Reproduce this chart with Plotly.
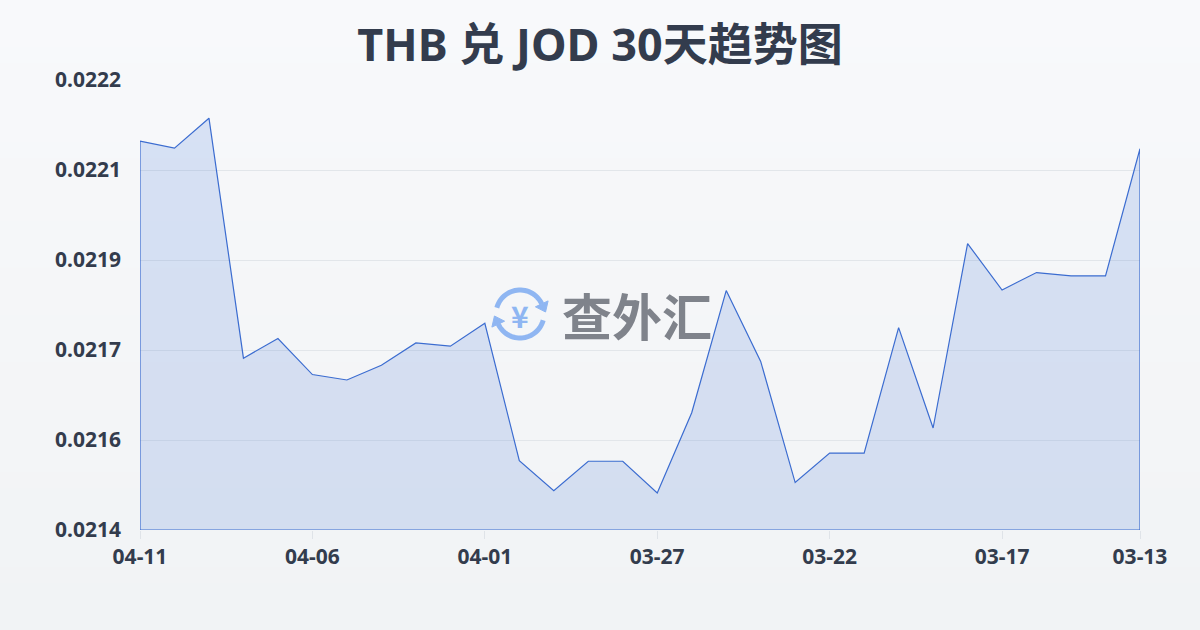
import numpy as np
import plotly.graph_objects as go

# ---- data ----
DATES = ["04-11", "04-10", "04-09", "04-08", "04-07", "04-06", "04-05", "04-04", "04-03", "04-02",
         "04-01", "03-31", "03-30", "03-29", "03-28", "03-27", "03-26", "03-25", "03-24", "03-23",
         "03-22", "03-21", "03-20", "03-19", "03-18", "03-17", "03-16", "03-15", "03-14", "03-13"]
RATES = [0.022113, 0.022100, 0.022155, 0.021715, 0.021751, 0.021685, 0.021675, 0.021702, 0.021743, 0.021737,
         0.021779, 0.021527, 0.021472, 0.021526, 0.021526, 0.021468, 0.021615, 0.021839, 0.021709, 0.021487,
         0.021541, 0.021541, 0.021771, 0.021587, 0.021925, 0.021840, 0.021872, 0.021866, 0.021866, 0.022099]
X_TICKS = ["04-11", "04-06", "04-01", "03-27", "03-22", "03-17", "03-13"]
Y_TICK_LABELS = ["0.0214", "0.0216", "0.0217", "0.0219", "0.0221", "0.0222"]
Y_MIN, Y_MAX = 0.02140, 0.022225
TITLE = "THB 兑 JOD 30天趋势图"

W, H = 1200, 630
L, R, T, B = 140, 60, 80, 100
PW, PH = W - L - R, H - T - B

def px(x):
    return (x - L) / PW

def py(y):
    return (H - B - y) / PH

tickvals = list(np.linspace(Y_MIN, Y_MAX, len(Y_TICK_LABELS)))

fig = go.Figure()

# closed area polygon (data + baseline)
xs = DATES + [DATES[-1], DATES[0], DATES[0]]
ys = RATES + [Y_MIN, Y_MIN, RATES[0]]
fig.add_trace(go.Scatter(
    x=xs, y=ys, mode="lines", fill="toself",
    fillcolor="rgba(62,110,214,0.17)",
    line=dict(color="#3b6cd0", width=1.2),
    hoverinfo="skip", showlegend=False,
))

shapes = []
# background gradient
top_c = np.array([248, 249, 251])
bot_c = np.array([241, 243, 245])
n = 40
for i in range(n):
    t = i / (n - 1)
    c = (top_c + (bot_c - top_c) * t).round().astype(int)
    y0 = H * i / n
    y1 = H * (i + 1) / n + 1
    shapes.append(dict(type="rect", xref="paper", yref="paper", layer="below",
                       x0=px(0), x1=px(W), y0=py(y1), y1=py(y0),
                       fillcolor=f"rgb({c[0]},{c[1]},{c[2]})", line=dict(width=0)))

# watermark icon: two circular arrows
cx, cy, r = 520, 314, 24
icon_col = "#8fb6f2"

def arc(a0, a1, steps=30):
    angs = np.radians(np.linspace(a0, a1, steps))
    pts = [(cx + r * np.cos(a), cy - r * np.sin(a)) for a in angs]
    d = "M " + " L ".join(f"{px(x):.5f},{py(y):.5f}" for x, y in pts)
    return d

def head(a, direction):
    a = np.radians(a)
    ex, ey = cx + r * np.cos(a), cy - r * np.sin(a)
    tx, ty = -np.sin(a) * direction, -np.cos(a) * direction
    rx, ry = np.cos(a), -np.sin(a)
    tip = (ex + tx * 9, ey + ty * 9)
    b1 = (ex + rx * 7, ey + ry * 7)
    b2 = (ex - rx * 7, ey - ry * 7)
    pts = [tip, b1, b2]
    return "M " + " L ".join(f"{px(x):.5f},{py(y):.5f}" for x, y in pts) + " Z"

shapes.append(dict(type="path", xref="paper", yref="paper", path=arc(165, 25),
                   line=dict(color=icon_col, width=5), layer="above"))
shapes.append(dict(type="path", xref="paper", yref="paper", path=head(25, -1),
                   fillcolor=icon_col, line=dict(color=icon_col, width=1), layer="above"))
shapes.append(dict(type="path", xref="paper", yref="paper", path=arc(-15, -155),
                   line=dict(color=icon_col, width=5), layer="above"))
shapes.append(dict(type="path", xref="paper", yref="paper", path=head(-155, -1),
                   fillcolor=icon_col, line=dict(color=icon_col, width=1), layer="above"))

annotations = [
    dict(text="¥", x=px(cx), y=py(cy + 1), xref="paper", yref="paper", showarrow=False,
         font=dict(family="Noto Sans CJK SC, Noto Sans", size=30, color=icon_col, weight="bold"),
         xanchor="center", yanchor="middle"),
    dict(text="查外汇", x=px(637), y=py(314), xref="paper", yref="paper", showarrow=False,
         font=dict(family="Noto Sans CJK SC", size=50, color="#7f838b", weight="bold"),
         xanchor="center", yanchor="middle"),
]

fig.update_layout(
    width=W, height=H,
    margin=dict(l=L, r=R, t=T, b=B),
    paper_bgcolor="#f5f7f9",
    plot_bgcolor="rgba(0,0,0,0)",
    title=dict(text=TITLE, x=0.5, xanchor="center", y=1 - 45 / H, yanchor="middle",
               font=dict(family="Noto Sans, Noto Sans CJK SC", size=45, color="#333c4d", weight="bold")),
    shapes=shapes,
    annotations=annotations,
    xaxis=dict(type="category", categoryorder="array", categoryarray=DATES,
               range=[0, len(DATES) - 1], tickmode="array", tickvals=X_TICKS, ticktext=X_TICKS,
               showgrid=False, zeroline=False, showline=False,
               ticks="outside", ticklen=8, tickcolor="#dfe3e8", tickwidth=1,
               tickfont=dict(family="Noto Sans", size=21, color="#333c4d", weight="bold")),
    yaxis=dict(range=[Y_MIN, Y_MAX], tickmode="array", tickvals=tickvals, ticktext=Y_TICK_LABELS,
               showgrid=True, gridcolor="#e2e6ea", gridwidth=1, zeroline=False, showline=False,
               ticks="", ticklabelstandoff=18,
               tickfont=dict(family="Noto Sans", size=21, color="#333c4d", weight="bold")),
    hovermode=False,
)

fig.write_html("out.html", config={"displayModeBar": False},
               post_script="document.body.style.margin='0';document.body.style.overflow='hidden';")
